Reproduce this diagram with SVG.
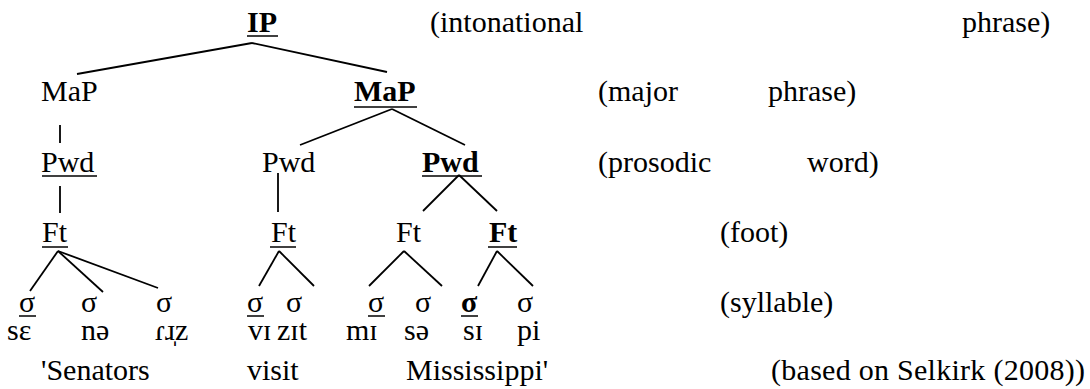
<svg xmlns="http://www.w3.org/2000/svg" width="1090" height="389" viewBox="0 0 1090 389" font-family="'Liberation Serif', 'Times New Roman', Tinos, 'DejaVu Serif', serif">
  <style>
    text { font-family: "Liberation Serif", "Times New Roman", Tinos, "DejaVu Serif", serif; font-size: 30px; fill: #000; }
    .b { font-weight: bold; }
    .ul { stroke: #000; stroke-width: 1.5; }
    .edge { stroke: #000; stroke-width: 1.8; fill: none; stroke-linecap: butt; }
  </style>
  <rect width="1090" height="389" fill="#fff"/>

  <!-- tree edges -->
  <g id="connectors">
    <line class="edge" x1="252" y1="43" x2="77" y2="74"/>
    <line class="edge" x1="252" y1="43" x2="387" y2="72"/>
    <line class="edge" x1="60" y1="125" x2="60" y2="143"/>
    <line class="edge" x1="392" y1="109" x2="300" y2="145"/>
    <line class="edge" x1="392" y1="109" x2="465" y2="145"/>
    <line class="edge" x1="60" y1="186" x2="60" y2="213"/>
    <line class="edge" x1="278" y1="173" x2="278" y2="212"/>
    <line class="edge" x1="459" y1="175" x2="423" y2="211"/>
    <line class="edge" x1="459" y1="175" x2="497" y2="211"/>
    <line class="edge" x1="58" y1="251" x2="30" y2="291"/>
    <line class="edge" x1="58" y1="251" x2="103" y2="292"/>
    <line class="edge" x1="58" y1="251" x2="158" y2="288"/>
    <line class="edge" x1="279" y1="251" x2="259" y2="286"/>
    <line class="edge" x1="279" y1="251" x2="314" y2="286"/>
    <line class="edge" x1="404" y1="251" x2="369" y2="286"/>
    <line class="edge" x1="404" y1="251" x2="442" y2="286"/>
    <line class="edge" x1="497" y1="251" x2="478" y2="286"/>
    <line class="edge" x1="497" y1="251" x2="533" y2="286"/>
  </g>

  <!-- intonational phrase -->
  <g id="ip">
    <text class="b" x="247" y="32">IP</text>
    <line class="ul" x1="247" y1="36" x2="278" y2="36"/>
  </g>

  <!-- major phrases -->
  <g id="map-1"><text x="41" y="101">MaP</text></g>
  <g id="map-2">
    <text class="b" x="354" y="101">MaP</text>
    <line class="ul" x1="354" y1="107" x2="417" y2="107"/>
  </g>

  <!-- prosodic words -->
  <g id="pwd-1">
    <text x="41" y="172">Pwd</text>
    <line class="ul" x1="42" y1="176" x2="97" y2="176"/>
  </g>
  <g id="pwd-2"><text x="262" y="172">Pwd</text></g>
  <g id="pwd-3">
    <text class="b" x="422" y="172">Pwd</text>
    <line class="ul" x1="422" y1="176" x2="482" y2="176"/>
  </g>

  <!-- feet -->
  <g id="ft-1">
    <text x="42" y="242">Ft</text>
    <line class="ul" x1="42" y1="247" x2="68" y2="247"/>
  </g>
  <g id="ft-2">
    <text x="271" y="242">Ft</text>
    <line class="ul" x1="270" y1="247" x2="296" y2="247"/>
  </g>
  <g id="ft-3"><text x="396" y="242">Ft</text></g>
  <g id="ft-4">
    <text class="b" x="489" y="242">Ft</text>
    <line class="ul" x1="488" y1="247" x2="517" y2="247"/>
  </g>

  <!-- syllables -->
  <g id="syl-1">
    <text x="19" y="312">σ</text>
    <line class="ul" x1="19" y1="316" x2="36" y2="316"/>
  </g>
  <g id="syl-2"><text x="81" y="312">σ</text></g>
  <g id="syl-3"><text x="156" y="312">σ</text></g>
  <g id="syl-4">
    <text x="247" y="312">σ</text>
    <line class="ul" x1="247" y1="316" x2="264" y2="316"/>
  </g>
  <g id="syl-5"><text x="286" y="312">σ</text></g>
  <g id="syl-6">
    <text x="368" y="312">σ</text>
    <line class="ul" x1="368" y1="316" x2="385" y2="316"/>
  </g>
  <g id="syl-7"><text x="415" y="312">σ</text></g>
  <g id="syl-8">
    <text class="b" x="461" y="312">σ</text>
    <line class="ul" x1="461" y1="316" x2="478" y2="316"/>
  </g>
  <g id="syl-9"><text x="517" y="312">σ</text></g>

  <!-- transcription -->
  <g id="ipa">
    <text x="7" y="340">sɛ</text>
    <text x="81" y="340">nə</text>
    <text x="155" y="340">ɾɹ̩z</text>
    <text x="248" y="340">vɪ</text>
    <text x="277" y="340">zɪt</text>
    <text x="346" y="340">mɪ</text>
    <text x="404" y="340">sə</text>
    <text x="463" y="340">sɪ</text>
    <text x="517" y="340">pi</text>
  </g>

  <!-- gloss -->
  <g id="gloss">
    <text x="41" y="380">'Senators</text>
    <text x="247" y="380">visit</text>
    <text x="406" y="380">Mississippi'</text>
  </g>

  <!-- level labels -->
  <g id="labels">
    <text x="430" y="32">(intonational</text>
    <text x="962" y="32">phrase)</text>
    <text x="598" y="101">(major</text>
    <text x="768" y="101">phrase)</text>
    <text x="598" y="172">(prosodic</text>
    <text x="807" y="172">word)</text>
    <text x="720" y="242">(foot)</text>
    <text x="720" y="312">(syllable)</text>
    <text x="771" y="380" textLength="314">(based on Selkirk (2008))</text>
  </g>
</svg>
